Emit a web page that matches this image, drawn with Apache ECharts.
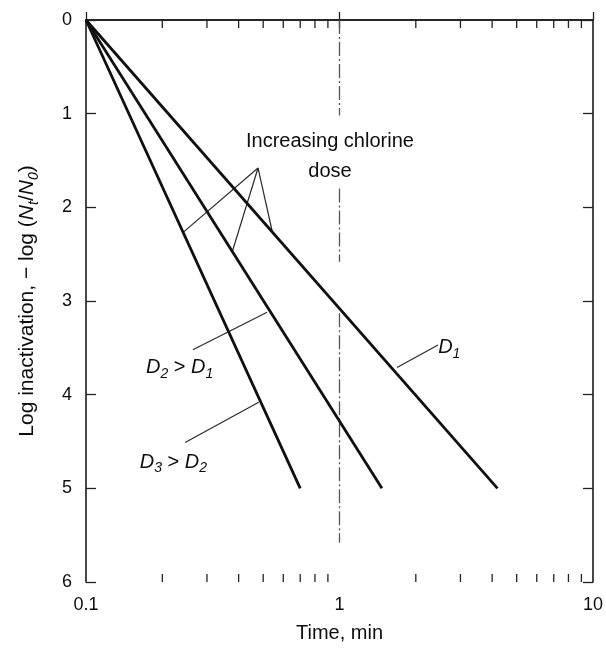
<!DOCTYPE html>
<html>
<head>
<meta charset="utf-8">
<script src="https://cdn.jsdelivr.net/npm/echarts@6/dist/echarts.min.js"></script>
<style>
html,body{margin:0;padding:0;background:#fff;}
#chart{width:606px;height:652px;}
</style>
</head>
<body>
<div id="chart"></div>
<script>
// ---- data ----
const xTickValues = [0.1, 1, 10];
const yTickValues = [0, 1, 2, 3, 4, 5, 6];
const lineNames = ['D1', 'D2', 'D3'];
const startTime = 0.1;
const startLog = 0;
const endTimes = [4.2, 1.47, 0.70];
const endLogs = [5, 5, 5];
const minorTickTimes = [0.2, 0.3, 0.4, 0.5, 0.6, 0.7, 0.8, 0.9, 2, 3, 4, 5, 6, 7, 8, 9];
const topTickTimes = [0.2, 0.3, 0.4, 0.5, 0.6, 0.7, 0.8, 0.9, 1, 2, 3, 4, 5, 6, 7, 8, 9];
const refLineTime = 1;
const refLineSegments = [[0, 1.02], [1.8, 2.58], [3.13, 5.58]];
const doseLeaderApex = [0.477, 1.58];
const doseLeaderEnds = [[0.241, 2.27], [0.377, 2.48], [0.542, 2.25]];
const labelLeaders = [
  [[0.264, 3.52], [0.518, 3.12]],
  [[0.246, 4.51], [0.48, 4.08]],
  [[1.686, 3.71], [2.447, 3.47]]
];
const annotationTexts = ['Increasing chlorine\ndose', '{d|D}{s|2} > {d|D}{s|1}', '{d|D}{s|3} > {d|D}{s|2}', '{d|D}{s|1}'];
const annotationAnchors = [[0.917, 1.46], [0.1725, 3.71], [0.163, 4.72], [2.45, 3.50]];
const annotationAlign = ['center', 'left', 'left', 'left'];

// ---- chart ----
const FONT = '"Liberation Sans", Arial, Helvetica, sans-serif';
const INK = '#0d0d0d';
const chart = echarts.init(document.getElementById('chart'), null, {renderer: 'canvas'});

const richD = {
  d: {fontStyle: 'italic', fontSize: 20, lineHeight: 27, fontFamily: FONT, color: INK, opacity: 1},
  s: {fontStyle: 'italic', fontSize: 14, lineHeight: 16, verticalAlign: 'bottom', fontFamily: FONT, color: INK, opacity: 1}
};

const series = [];

// main lines
lineNames.forEach((n, i) => {
  series.push({
    name: n, type: 'line', symbol: 'none', animation: false,
    data: [[startTime, startLog], [endTimes[i], endLogs[i]]],
    lineStyle: {color: '#101010', width: 2.8},
    z: 5
  });
});

// reference dash-dot line at t = 1
refLineSegments.forEach(seg => {
  series.push({
    type: 'line', symbol: 'none', animation: false, silent: true,
    data: [[refLineTime, seg[0]], [refLineTime, seg[1]]],
    lineStyle: {color: '#555', width: 1.3, type: [14, 3, 2, 3]},
    z: 3
  });
});

// leaders for "Increasing chlorine dose"
doseLeaderEnds.forEach(p => {
  series.push({
    type: 'line', symbol: 'none', animation: false, silent: true,
    data: [doseLeaderApex, p],
    lineStyle: {color: '#2a2a2a', width: 1.2},
    z: 4
  });
});

// leaders for D labels
labelLeaders.forEach(l => {
  series.push({
    type: 'line', symbol: 'none', animation: false, silent: true,
    data: l,
    lineStyle: {color: '#2a2a2a', width: 1.2},
    z: 4
  });
});

// annotations
series.push({
  type: 'scatter', symbolSize: 0, animation: false, silent: true,
  itemStyle: {opacity: 1},
  data: annotationAnchors.map((a, i) => ({
    value: a,
    label: {
      show: true,
      formatter: annotationTexts[i],
      position: annotationAlign[i] === 'center' ? 'inside' : 'right',
      distance: 0,
      align: annotationAlign[i],
      verticalAlign: 'middle',
      fontSize: 20,
      lineHeight: annotationAlign[i] === 'center' ? 30 : 27,
      fontFamily: FONT,
      color: INK,
      opacity: 1,
      textBorderWidth: 0,
      rich: richD
    }
  })),
  z: 6
});

// minor ticks on the log time axis (bottom and top)
function tickLine(x1, y1, x2, y2) {
  return {type: 'line', shape: {x1: x1, y1: y1, x2: x2, y2: y2}, style: {stroke: '#222', lineWidth: 1.3}};
}
series.push({
  type: 'custom', animation: false, silent: true,
  data: minorTickTimes.map(v => [v, 0]),
  renderItem: function (params, api) {
    const v = api.value(0);
    const b = api.coord([v, yTickValues[yTickValues.length - 1]]);
    return tickLine(b[0], b[1], b[0], b[1] - 8);
  },
  z: 2
});
series.push({
  type: 'custom', animation: false, silent: true,
  data: topTickTimes.map(v => [v, 0]),
  renderItem: function (params, api) {
    const v = api.value(0);
    const t = api.coord([v, yTickValues[0]]);
    return tickLine(t[0], t[1], t[0], t[1] + 8);
  },
  z: 2
});

const axisLineStyle = {color: '#1a1a1a', width: 1.6};

const option = {
  animation: false,
  backgroundColor: '#ffffff',
  textStyle: {fontFamily: FONT, color: INK},
  grid: {left: 86, right: 13, top: 20, bottom: 70, containLabel: false, outerBoundsMode: 'none'},
  xAxis: [
    {
      type: 'log', logBase: 10, min: xTickValues[0], max: xTickValues[xTickValues.length - 1],
      position: 'bottom',
      name: 'Time, min', nameLocation: 'middle', nameGap: 41,
      nameTextStyle: {fontSize: 20, fontFamily: FONT, color: INK},
      axisLine: {show: true, lineStyle: axisLineStyle},
      axisTick: {show: true, inside: true, length: 8, lineStyle: {color: '#222', width: 1.3}},
      minorTick: {show: false},
      splitLine: {show: false},
      axisLabel: {
        show: true, margin: 14, fontSize: 18, fontFamily: FONT, color: INK,
        formatter: v => (xTickValues.some(t => Math.abs(t - v) < 1e-9) ? String(v) : '')
      }
    },
    {
      type: 'log', logBase: 10, min: xTickValues[0], max: xTickValues[xTickValues.length - 1],
      position: 'top',
      axisLine: {show: true, lineStyle: axisLineStyle},
      axisTick: {show: false},
      splitLine: {show: false},
      axisLabel: {show: false}
    }
  ],
  yAxis: [
    {
      type: 'value', inverse: true, min: yTickValues[0], max: yTickValues[yTickValues.length - 1], interval: 1,
      position: 'left',
      name: 'Log inactivation, − log ({i|N}{s|t}/{i|N}{s|0})',
      nameLocation: 'middle', nameRotate: 90, nameGap: 45,
      nameTextStyle: {
        fontSize: 21, lineHeight: 28, fontFamily: FONT, color: INK,
        rich: {
          i: {fontStyle: 'italic', fontSize: 21, lineHeight: 28, fontFamily: FONT, color: INK},
          s: {fontStyle: 'italic', fontSize: 14, lineHeight: 17, verticalAlign: 'bottom', fontFamily: FONT, color: INK}
        }
      },
      axisLine: {show: true, lineStyle: axisLineStyle},
      axisTick: {show: true, inside: true, length: 10, lineStyle: {color: '#222', width: 1.3}},
      splitLine: {show: false},
      axisLabel: {show: true, margin: 14, fontSize: 18, fontFamily: FONT, color: INK}
    },
    {
      type: 'value', inverse: true, min: yTickValues[0], max: yTickValues[yTickValues.length - 1], interval: 1,
      position: 'right',
      axisLine: {show: true, lineStyle: axisLineStyle},
      axisTick: {show: true, inside: true, length: 10, lineStyle: {color: '#222', width: 1.3}},
      splitLine: {show: false},
      axisLabel: {show: false}
    }
  ],
  series: series
};

chart.setOption(option);
</script>
</body>
</html>
